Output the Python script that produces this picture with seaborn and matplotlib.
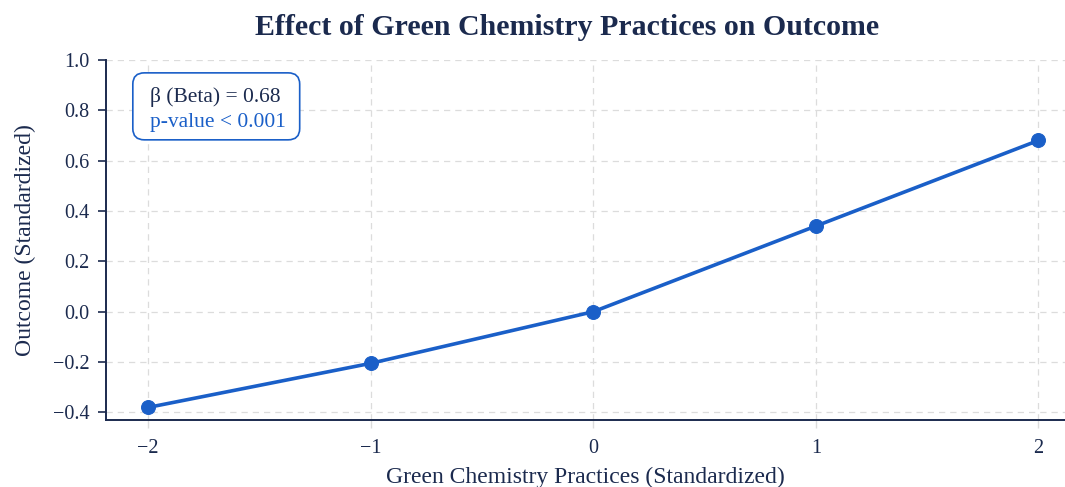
import matplotlib
matplotlib.use("Agg")
import matplotlib.pyplot as plt
import seaborn as sns
import pandas as pd
from matplotlib.patches import FancyBboxPatch

x_vals = [-2, -1, 0, 1, 2]
y_vals = [-0.38, -0.205, 0.0, 0.34, 0.68]
x_ticks = [-2, -1, 0, 1, 2]
y_ticks = [-0.4, -0.2, 0.0, 0.2, 0.4, 0.6, 0.8, 1.0]

title = "Effect of Green Chemistry Practices on Outcome"
xlabel = "Green Chemistry Practices (Standardized)"
ylabel = "Outcome (Standardized)"
beta_text = "β (Beta) = 0.68"
p_text = "p-value < 0.001"

navy = "#1b2a4e"
blue = "#1a5fc8"
grid_c = "#dcdcdc"

sns.set_theme(style="white")
plt.rcParams["font.family"] = ["Liberation Serif", "DejaVu Serif"]

df = pd.DataFrame({"x": x_vals, "y": y_vals})

fig = plt.figure(figsize=(10.65, 4.87), dpi=100)
ax = fig.add_axes([0.0995, 0.1376, 0.9005, 0.7394])

sns.lineplot(data=df, x="x", y="y", ax=ax, color=blue, linewidth=2.6,
             marker="o", markersize=10, markeredgecolor=blue, markerfacecolor=blue)

ax.set_xlim(-2.19, 2.12)
ax.set_ylim(-0.43, 1.0)
ax.set_xticks(x_ticks)
ax.set_xticklabels(["\u22122", "\u22121", "0", "1", "2"])
ax.set_yticks(y_ticks)
ax.set_yticklabels([("\u2212" if v < 0 else "") + f"{abs(v):.1f}" for v in y_ticks])

ax.grid(True, color=grid_c, linestyle=(0, (5, 4)), linewidth=0.9)
ax.set_axisbelow(True)
for s in ["top", "right"]:
    ax.spines[s].set_visible(False)
for s in ["left", "bottom"]:
    ax.spines[s].set_color(navy)
    ax.spines[s].set_linewidth(1.4)

ax.tick_params(axis="y", which="major", left=True, length=6, width=1.2,
               color=navy, labelcolor=navy, labelsize=14.5, pad=6)
ax.tick_params(axis="x", which="major", bottom=True, length=6, width=1.0,
               color=grid_c, labelcolor=navy, labelsize=14.5, pad=8)

ax.set_xlabel(xlabel, fontsize=17, color=navy, labelpad=6)
ax.set_ylabel(ylabel, fontsize=17, color=navy, labelpad=12)
fig.text(0.532, 0.944, title, ha="center", va="center", fontsize=21.5,
         fontweight="bold", color=navy)

box = FancyBboxPatch((0.028, 0.778), 0.174, 0.186, transform=ax.transAxes,
                     boxstyle="round,pad=0,rounding_size=0.012",
                     facecolor="white", edgecolor=blue, linewidth=1.2,
                     mutation_aspect=2.6, zorder=5)
ax.add_patch(box)
ax.text(0.046, 0.896, beta_text, transform=ax.transAxes, fontsize=15.5,
        color=navy, va="center", ha="left", zorder=6)
ax.text(0.046, 0.825, p_text, transform=ax.transAxes, fontsize=15.5,
        color=blue, va="center", ha="left", zorder=6)

fig.savefig("out.png", dpi=100, facecolor="white")
